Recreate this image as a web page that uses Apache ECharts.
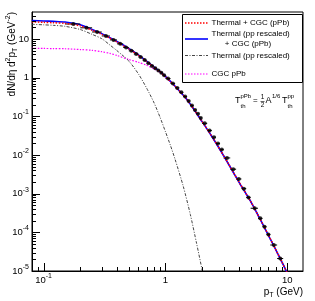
<!DOCTYPE html>
<html><head><meta charset="utf-8">
<script src="https://cdn.jsdelivr.net/npm/echarts@6/dist/echarts.min.js"></script>
<style>html,body{margin:0;padding:0;background:#fff}#c{width:315px;height:301px}</style>
</head><body><div id="c"></div>
<script>
// ---- data ----
const ptGrid = [0.08,0.1,0.12,0.15,0.2,0.25,0.3,0.35,0.4,0.5,0.6,0.7,0.8,0.9,1.0,1.2,1.5,2.0,2.5,3.0,4.0,5.0,6.0,7.0,8.0,9.0,10.0,11.0];
const thermalCgcPPb = [27.8,27.0,26.4,25.4,21.9,16.9,13.3,10.5,8.35,5.55,3.8,2.62,1.9,1.43,1.07,0.6,0.273,0.0735,0.025,0.0097,0.00205,6.35e-4,2.17e-4,8.5e-5,3.7e-5,1.76e-5,8.9e-6,4.75e-6];
const thermalPPCgc = [30.2,29.3,28.6,27.5,23.4,17.7,13.8,10.8,8.6,5.7,3.88,2.66,1.93,1.45,1.08,0.60,0.272,0.073,0.0248,0.0096,0.00203,6.3e-4,2.15e-4,8.4e-5,3.65e-5,1.74e-5,8.8e-6,4.7e-6];
const cgcPPb = [5.7,5.7,5.65,5.6,5.35,5.1,4.7,4.25,3.75,2.95,2.5,2.1,1.7,1.36,1.04,0.59,0.270,0.0725,0.0246,0.0095,0.00201,6.25e-4,2.13e-4,8.3e-5,3.6e-5,1.72e-5,8.7e-6,4.65e-6];
const ptThermal = [0.08,0.1,0.12,0.15,0.2,0.25,0.3,0.35,0.4,0.5,0.6,0.7,0.8,0.9,1.0,1.1,1.2,1.4,1.6,1.8,2.0,2.1];
const thermalPP = [24.0,23.3,22.6,21.3,17.6,13.2,10.2,7.0,5.0,2.7,1.25,0.54,0.236,0.097,0.040,0.0175,0.0077,0.00155,2.9e-4,5.2e-5,1.05e-5,4.5e-6];
const dataPt = [0.175,0.225,0.275,0.325,0.375,0.425,0.475,0.525,0.575,0.625,0.675,0.725,0.775,0.825,0.875,0.925,0.975,1.05,1.15,1.25,1.35,1.45,1.55,1.65,1.75,1.85,1.95,2.1,2.3,2.5,2.7,2.9,3.2,3.6,4.0,4.4,4.8,5.4,6.0,6.5,7.0,7.75,8.75];
const dataVal = [24.5,19.5,15.2,12.0,9.5,7.5,6.05,4.95,4.1,3.42,2.85,2.38,2.02,1.75,1.53,1.34,1.16,0.95,0.71,0.545,0.42,0.325,0.25,0.19,0.147,0.116,0.091,0.066,0.043,0.029,0.0198,0.0138,0.0084,0.0043,0.0024,0.00135,8.0e-4,4.2e-4,2.3e-4,1.4e-4,8.8e-5,4.7e-5,2.1e-5];
const binLo = [0.15,0.2,0.25,0.3,0.35,0.4,0.45,0.5,0.55,0.6,0.65,0.7,0.75,0.8,0.85,0.9,0.95,1.0,1.1,1.2,1.3,1.4,1.5,1.6,1.7,1.8,1.9,2.0,2.2,2.4,2.6,2.8,3.0,3.4,3.8,4.2,4.6,5.0,5.75,6.25,6.75,7.25,8.25];
const binHi = [0.2,0.25,0.3,0.35,0.4,0.45,0.5,0.55,0.6,0.65,0.7,0.75,0.8,0.85,0.9,0.95,1.0,1.1,1.2,1.3,1.4,1.5,1.6,1.7,1.8,1.9,2.0,2.2,2.4,2.6,2.8,3.0,3.4,3.8,4.2,4.6,5.0,5.75,6.25,6.75,7.25,8.25,9.25];
const xTickLabels = {'-1':'{b|10}{s|-1}','0':'{b|1}','1':'{b|10}'};
const yTickLabels = {'-5':'{b|10}{s|-5}','-4':'{b|10}{s|-4}','-3':'{b|10}{s|-3}','-2':'{b|10}{s|-2}','-1':'{b|10}{s|-1}','0':'{b|1}','1':'{b|10}'};
const legendNames = ['Thermal + CGC (pPb)', 'Thermal (pp rescaled)', '+ CGC (pPb)', 'Thermal (pp rescaled)', 'CGC pPb'];

// ---- chart ----
const FONT = "'Liberation Sans', Arial, Helvetica, sans-serif";
const X_MIN = 0.0803, X_MAX = 13.45, Y_MIN = 1e-5, Y_MAX = 50;
const zip = (a, b) => a.map((v, i) => [v, b[i]]);
function makeFmt(table) {
  return function (v) {
    const l = Math.log10(v), e = Math.round(l);
    if (Math.abs(l - e) > 1e-6) return '';
    return table[String(e)] || '';
  };
}
const labRich = {
  b: {fontSize: 9.5, fontFamily: FONT, color: '#000', lineHeight: 16},
  s: {fontSize: 7, fontFamily: FONT, color: '#000', padding: [0, 0, 8, 0]}
};
const chart = echarts.init(document.getElementById('c'), null, {renderer: 'canvas', width: 315, height: 301});

const tickSeries = {
  type: 'custom', silent: true, z: 10, clip: false,
  data: [[X_MIN, Y_MIN]],
  renderItem: function (params, api) {
    const ch = [];
    const o = api.coord([X_MIN, Y_MIN]);
    const x0 = o[0], y0 = o[1];
    for (let k = -2; k <= 1; k++) for (let m = 1; m <= 9; m++) {
      const v = m * Math.pow(10, k);
      if (v <= X_MIN || v >= X_MAX) continue;
      const px = Math.round(api.coord([v, Y_MIN])[0]) + 0.5;
      const len = m === 1 ? 8 : 4;
      ch.push({type: 'line', shape: {x1: px, y1: y0, x2: px, y2: y0 - len}, style: {stroke: '#000', lineWidth: 1}});
    }
    for (let k = -5; k <= 1; k++) for (let m = 1; m <= 9; m++) {
      const v = m * Math.pow(10, k);
      if (v <= Y_MIN || v >= Y_MAX) continue;
      const py = Math.round(api.coord([X_MIN, v])[1]) + 0.5;
      const len = m === 1 ? 8 : 4;
      ch.push({type: 'line', shape: {x1: x0, y1: py, x2: x0 + len, y2: py}, style: {stroke: '#000', lineWidth: 1}});
    }
    return {type: 'group', children: ch};
  }
};

const errSeries = {
  type: 'custom', silent: true, z: 5,
  data: dataPt.map((p, i) => [binLo[i], binHi[i], dataVal[i]]),
  encode: {x: [0, 1], y: 2},
  renderItem: function (params, api) {
    const a = api.coord([api.value(0), api.value(2)]);
    const b = api.coord([api.value(1), api.value(2)]);
    return {type: 'line', shape: {x1: a[0], y1: a[1], x2: b[0], y2: b[1]}, style: {stroke: '#000', lineWidth: 1}};
  }
};

function lineSeries(name, xs, ys, color, width, dash, z) {
  return {name, type: 'line', data: zip(xs, ys), showSymbol: false, symbol: 'none', smooth: 0.25, z,
    lineStyle: {color, width, type: dash}, clip: true, silent: true};
}
const titleRich = {
  n: {fontSize: 10, fontFamily: FONT, color: '#000', lineHeight: 16},
  sp: {fontSize: 7, fontFamily: FONT, color: '#000', padding: [0, 0, 8, 0]},
  sb: {fontSize: 7, fontFamily: FONT, color: '#000', padding: [6, 0, 0, 0]}
};

const option = {
  animation: false,
  backgroundColor: '#fff',
  grid: {left: 32, top: 12, width: 271, height: 259, show: true, borderColor: '#000', borderWidth: 1, backgroundColor: 'transparent'},
  xAxis: {type: 'log', logBase: 10, min: X_MIN, max: X_MAX,
    axisLine: {show: true, lineStyle: {color: '#000', width: 1}},
    axisTick: {show: false}, splitLine: {show: false}, minorTick: {show: false},
    axisLabel: {formatter: makeFmt(xTickLabels), margin: 1, rich: labRich, color: '#000'}},
  yAxis: {type: 'log', logBase: 10, min: Y_MIN, max: Y_MAX,
    axisLine: {show: true, lineStyle: {color: '#000', width: 1}},
    axisTick: {show: false}, splitLine: {show: false}, minorTick: {show: false},
    axisLabel: {formatter: makeFmt(yTickLabels), margin: 3, rich: labRich, color: '#000'}},
  series: [
    lineSeries('CGC pPb', ptGrid, cgcPPb, '#ff00ff', 1.2, [1.5, 1.5], 2),
    lineSeries('Thermal (pp rescaled)', ptThermal, thermalPP, '#444', 1, [3, 1.5, 1, 1.5], 3),
    lineSeries('Thermal (pp rescaled) + CGC (pPb)', ptGrid, thermalPPCgc, '#0000ff', 1.6, 'solid', 4),
    lineSeries('Thermal + CGC (pPb)', ptGrid, thermalCgcPPb, '#ff0000', 1.5, [1.5, 1.5], 5),
    errSeries,
    {name: 'data', type: 'scatter', data: zip(dataPt, dataVal), symbol: 'circle', symbolSize: 4, z: 6,
      itemStyle: {color: '#000'}, silent: true},
    tickSeries
  ],
  graphic: [
    // y axis title
    {type: 'text', x: 12, y: 12, rotation: Math.PI / 2, z: 20, style: {
      text: '{n|dN/dη d}{sp|2}{n|p}{sb|T}{n| (GeV}{sp|-2}{n|)}', align: 'right', verticalAlign: 'middle', rich: titleRich}},
    // x axis title
    {type: 'text', x: 303, y: 292, z: 20, style: {
      text: '{n|p}{sb|T}{n| (GeV)}', align: 'right', verticalAlign: 'middle', rich: titleRich}},
    // legend box
    {type: 'rect', z: 20, shape: {x: 182.5, y: 14.5, width: 120, height: 68}, style: {fill: '#fff', stroke: '#000', lineWidth: 1}},
    {type: 'line', z: 21, shape: {x1: 185, y1: 23, x2: 208, y2: 23}, style: {stroke: '#ff0000', lineWidth: 1.5, lineDash: [1.5, 1.5]}},
    {type: 'text', z: 21, x: 211.5, y: 23, style: {text: legendNames[0], font: '8px ' + FONT, fill: '#000', verticalAlign: 'middle'}},
    {type: 'line', z: 21, shape: {x1: 185, y1: 39, x2: 208, y2: 39}, style: {stroke: '#0000ff', lineWidth: 1.6}},
    {type: 'text', z: 21, x: 211.5, y: 33.5, style: {text: legendNames[1], font: '8px ' + FONT, fill: '#000', verticalAlign: 'middle'}},
    {type: 'text', z: 21, x: 248, y: 43.5, style: {text: legendNames[2], font: '8px ' + FONT, fill: '#000', align: 'center', verticalAlign: 'middle'}},
    {type: 'line', z: 21, shape: {x1: 185, y1: 55.5, x2: 208, y2: 55.5}, style: {stroke: '#444', lineWidth: 1, lineDash: [3, 1.5, 1, 1.5]}},
    {type: 'text', z: 21, x: 211.5, y: 55.5, style: {text: legendNames[3], font: '8px ' + FONT, fill: '#000', verticalAlign: 'middle'}},
    {type: 'line', z: 21, shape: {x1: 185, y1: 74, x2: 208, y2: 74}, style: {stroke: '#ff00ff', lineWidth: 1.2, lineDash: [1.5, 1.5]}},
    {type: 'text', z: 21, x: 211.5, y: 74, style: {text: legendNames[4], font: '8px ' + FONT, fill: '#000', verticalAlign: 'middle'}},
    // annotation T_th^pPb = 1/2 A^{1/6} T_th^pp
    {type: 'text', z: 21, x: 235, y: 101, style: {text: 'T', font: '9px ' + FONT, fill: '#000', verticalAlign: 'middle'}},
    {type: 'text', z: 21, x: 240.5, y: 96, style: {text: 'pPb', font: '6px ' + FONT, fill: '#000', verticalAlign: 'middle'}},
    {type: 'text', z: 21, x: 240.5, y: 106, style: {text: 'th', font: '6px ' + FONT, fill: '#000', verticalAlign: 'middle'}},
    {type: 'text', z: 21, x: 253, y: 101, style: {text: '=', font: '8px ' + FONT, fill: '#000', verticalAlign: 'middle'}},
    {type: 'text', z: 21, x: 262.5, y: 97.5, style: {text: '1', font: '6.5px ' + FONT, fill: '#000', align: 'center', verticalAlign: 'middle'}},
    {type: 'line', z: 21, shape: {x1: 260.5, y1: 101.5, x2: 264.5, y2: 101.5}, style: {stroke: '#000', lineWidth: 0.6}},
    {type: 'text', z: 21, x: 262.5, y: 105.5, style: {text: '2', font: '6.5px ' + FONT, fill: '#000', align: 'center', verticalAlign: 'middle'}},
    {type: 'text', z: 21, x: 265.5, y: 101, style: {text: 'A', font: '9px ' + FONT, fill: '#000', verticalAlign: 'middle'}},
    {type: 'text', z: 21, x: 272, y: 96, style: {text: '1/6', font: '6px ' + FONT, fill: '#000', verticalAlign: 'middle'}},
    {type: 'text', z: 21, x: 282, y: 101, style: {text: 'T', font: '9px ' + FONT, fill: '#000', verticalAlign: 'middle'}},
    {type: 'text', z: 21, x: 287.5, y: 96, style: {text: 'pp', font: '6px ' + FONT, fill: '#000', verticalAlign: 'middle'}},
    {type: 'text', z: 21, x: 287.5, y: 106, style: {text: 'th', font: '6px ' + FONT, fill: '#000', verticalAlign: 'middle'}}
  ]
};
chart.setOption(option);
</script>
</body></html>
